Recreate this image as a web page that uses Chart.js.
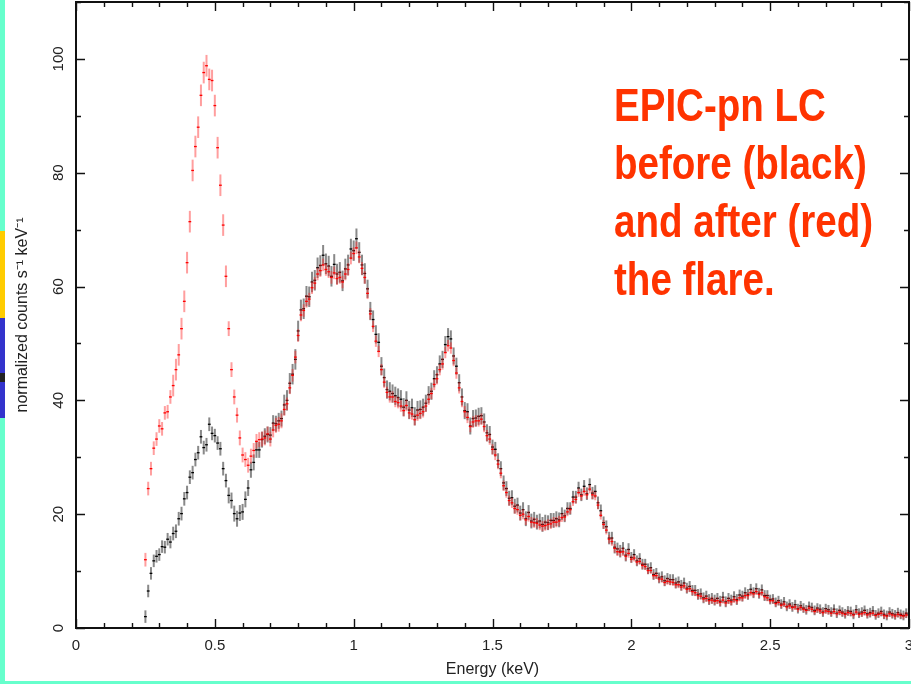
<!DOCTYPE html>
<html>
<head>
<meta charset="utf-8">
<title>EPIC-pn spectrum before and after the flare</title>
<script src="https://cdn.jsdelivr.net/npm/chart.js@4.4.1/dist/chart.umd.min.js"></script>
<style>
  html, body { margin: 0; padding: 0; background: #fff; overflow: hidden; }
  #wrap { width: 911px; height: 684px; position: relative; }
  canvas { display: block; }
</style>
</head>
<body>
<div id="wrap"><canvas id="spec" width="911" height="684"></canvas></div>
<script>
// Spectral bins: centres start at 0.25 keV, 0.01 keV wide
const binStart = 0.25;
const binWidth = 0.01;

// Normalized counts s^-1 keV^-1 before the flare (black)
const before = [
  2.0, 6.5, 9.6, 11.8, 12.6, 12.9, 14.3, 14.2, 15.6, 15.1,
  16.6, 17.0, 19.2, 20.1, 22.7, 23.8, 26.5, 27.3, 29.6, 30.8,
  33.6, 31.7, 32.2, 35.8, 34.2, 33.8, 32.5, 31.5, 28.0, 25.9,
  23.3, 22.4, 20.1, 19.2, 20.2, 20.4, 22.6, 24.6, 27.8, 29.1,
  31.3, 31.3, 33.1, 33.7, 34.0, 33.9, 36.0, 35.9, 36.4, 36.8,
  39.2, 40.0, 43.0, 44.6, 47.2, 52.2, 55.9, 56.1, 58.3, 58.2,
  60.8, 61.1, 63.3, 63.7, 65.5, 64.0, 63.6, 61.8, 63.9, 62.2,
  62.5, 61.0, 63.1, 63.8, 66.6, 66.3, 68.4, 66.0, 63.8, 62.3,
  59.6, 55.7, 54.2, 51.6, 50.2, 46.0, 44.0, 41.9, 41.6, 41.2,
  40.8, 40.5, 40.2, 38.8, 40.0, 38.3, 38.7, 37.2, 38.3, 38.4,
  38.8, 39.5, 41.0, 41.6, 43.8, 44.5, 46.4, 47.2, 49.8, 51.2,
  50.8, 47.8, 46.0, 43.1, 40.6, 38.2, 38.0, 35.5, 36.8, 36.9,
  37.2, 37.3, 36.2, 34.3, 34.0, 31.8, 31.4, 29.4, 28.0, 25.5,
  24.5, 22.8, 22.9, 21.4, 21.6, 20.2, 20.8, 19.2, 20.3, 18.8,
  19.1, 18.6, 18.8, 18.2, 18.6, 18.5, 18.9, 18.9, 19.2, 19.0,
  20.1, 19.7, 21.0, 21.0, 23.0, 23.0, 24.6, 23.4, 24.9, 23.6,
  25.2, 23.7, 24.0, 22.0, 20.6, 18.5, 17.8, 15.8, 15.8, 14.2,
  13.9, 13.5, 14.0, 12.8, 13.8, 12.4, 12.9, 11.8, 12.2, 11.2,
  11.2, 10.4, 10.6, 9.4, 9.6, 8.8, 9.0, 8.3, 8.7, 8.5,
  8.5, 7.9, 8.1, 7.5, 7.9, 7.0, 7.3, 6.6, 6.6, 5.9,
  6.0, 5.3, 5.6, 5.0, 5.2, 4.9, 5.2, 4.7, 5.4, 4.6,
  5.2, 4.9, 5.5, 5.0, 5.8, 5.6, 6.2, 5.9, 6.8, 6.2,
  6.9, 6.1, 6.7, 5.7, 5.7, 5.0, 5.1, 4.5, 4.8, 4.2,
  4.6, 3.8, 4.2, 3.7, 4.1, 3.4, 3.9, 3.5, 3.2, 3.8,
  3.6, 3.1, 3.5, 3.3, 2.8, 3.4, 3.2, 2.8, 3.3, 2.6,
  3.1, 2.8, 2.5, 3.0, 2.9, 2.4, 3.2, 2.6, 2.8, 3.1,
  2.5, 2.7, 3.0, 2.3, 2.6, 2.9, 2.4, 2.2, 2.8, 2.5,
  2.3, 2.7, 2.4, 2.2, 2.6, 2.4
];

// Normalized counts s^-1 keV^-1 after the flare (red)
const after = [
  12.0, 24.5, 28.0, 31.6, 33.2, 35.5, 35.0, 37.8, 38.0, 40.6,
  42.6, 45.4, 48.0, 52.6, 57.4, 64.2, 71.4, 80.4, 84.6, 88.0,
  93.6, 97.6, 98.8, 96.4, 96.2, 91.8, 84.4, 77.8, 70.8, 61.8,
  52.6, 45.4, 40.6, 37.4, 33.4, 30.4, 29.6, 28.6, 30.2, 31.2,
  32.8, 33.1, 33.2, 33.4, 34.1, 33.2, 34.8, 35.6, 35.8, 36.4,
  38.4, 39.4, 42.2, 44.4, 47.6, 51.4, 55.0, 55.8, 57.4, 57.8,
  59.8, 60.6, 62.2, 62.8, 63.8, 63.0, 62.6, 61.6, 62.4, 61.4,
  61.6, 60.8, 62.2, 63.0, 65.0, 65.8, 66.8, 65.2, 63.2, 61.6,
  58.8, 55.2, 53.0, 50.4, 48.6, 45.4, 43.2, 41.4, 40.6, 40.6,
  39.8, 39.6, 39.0, 38.2, 39.1, 37.8, 37.6, 36.6, 37.4, 37.7,
  38.0, 39.0, 40.2, 41.2, 42.8, 43.8, 45.4, 46.4, 48.4, 49.6,
  49.2, 47.0, 44.8, 42.2, 39.8, 38.0, 37.0, 35.4, 36.2, 36.4,
  36.4, 36.7, 35.4, 33.8, 33.2, 31.4, 30.4, 28.8, 27.2, 25.0,
  23.8, 22.4, 22.0, 21.0, 20.8, 19.8, 20.0, 19.0, 19.6, 18.6,
  18.5, 18.4, 18.1, 17.9, 18.0, 18.2, 18.3, 18.6, 18.6, 18.8,
  19.4, 19.5, 20.4, 20.8, 22.2, 22.6, 23.8, 23.2, 24.0, 23.4,
  24.4, 23.4, 23.2, 21.6, 19.8, 18.2, 17.2, 15.6, 15.2, 14.0,
  13.4, 13.3, 13.4, 12.6, 13.1, 12.1, 12.3, 11.6, 11.7, 11.0,
  10.8, 10.1, 10.1, 9.2, 9.2, 8.6, 8.6, 8.0, 8.2, 8.1,
  8.0, 7.6, 7.6, 7.2, 7.4, 6.8, 6.9, 6.4, 6.2, 5.7,
  5.6, 5.1, 5.2, 4.8, 4.9, 4.7, 4.8, 4.5, 4.9, 4.4,
  4.8, 4.6, 5.0, 4.8, 5.3, 5.3, 5.7, 5.7, 6.2, 6.0,
  6.4, 5.9, 6.2, 5.5, 5.3, 4.8, 4.8, 4.3, 4.5, 4.0,
  4.2, 3.7, 3.9, 3.6, 3.7, 3.3, 3.6, 3.3, 3.1, 3.5,
  3.3, 2.9, 3.2, 3.0, 2.7, 3.0, 2.9, 2.6, 2.9, 2.5,
  2.8, 2.6, 2.4, 2.7, 2.6, 2.3, 2.8, 2.4, 2.5, 2.7,
  2.3, 2.5, 2.6, 2.2, 2.4, 2.6, 2.2, 2.1, 2.5, 2.3,
  2.1, 2.4, 2.2, 2.1, 2.3, 2.2
];

// 1-sigma errors per energy band (upper band edges in keV)
const errEdges  = [0.35, 0.55, 0.75, 1.05, 1.25, 1.5, 1.75, 2.0, 2.5, 3.01];
const errBefore = [1.1, 1.2, 1.4, 1.8, 1.6, 1.5, 1.3, 1.1, 0.95, 0.85];
const errAfter  = [1.2, 1.9, 1.3, 1.1, 1.0, 1.0, 0.9, 0.75, 0.6, 0.5];

// Axis ticks
const xTicks = [0, 0.5, 1, 1.5, 2, 2.5, 3];
const yTicks = [0, 20, 40, 60, 80, 100];
const xMinorStep = 0.1;
const yMinorStep = 10;

const noteLines = ['EPIC-pn LC', 'before (black)', 'and after (red)', 'the flare.'];

const energies = before.map((_, i) => +(binStart + i * binWidth).toFixed(3));

function bandErr(errs, e) {
  const k = errEdges.findIndex(edge => e < edge);
  return errs[k < 0 ? errs.length - 1 : k];
}

const tickFont = { family: '"Liberation Sans", Arial, sans-serif', size: 15 };
const titleFont = { family: '"Liberation Sans", Arial, sans-serif', size: 16 };

// Page background with the coloured frame strips
const framePaper = {
  id: 'framePaper',
  beforeDraw(chart) {
    const ctx = chart.ctx;
    const W = chart.width, H = chart.height;
    ctx.save();
    ctx.fillStyle = '#ffffff';
    ctx.fillRect(0, 0, W, H);
    ctx.fillStyle = '#66ffcc';
    ctx.fillRect(0, 0, 5, H);
    ctx.fillRect(0, H - 3, W, 3);
    ctx.fillStyle = '#ffcc00';
    ctx.fillRect(0, 231, 5, 87);
    ctx.fillStyle = '#3333cc';
    ctx.fillRect(0, 318, 5, 100);
    ctx.fillStyle = '#222222';
    ctx.fillRect(0, 373, 5, 9);
    ctx.restore();
  }
};

// Error-bar crosses: vertical = 1 sigma, horizontal = bin width
const errorCrosses = {
  id: 'errorCrosses',
  afterDatasetsDraw(chart) {
    const { ctx, chartArea, scales: { x, y } } = chart;
    ctx.save();
    ctx.beginPath();
    ctx.rect(chartArea.left, chartArea.top, chartArea.width, chartArea.height);
    ctx.clip();
    chart.data.datasets.forEach((ds, di) => {
      const meta = chart.getDatasetMeta(di);
      meta.data.forEach((pt, i) => {
        const d = ds.data[i];
        const yHi = y.getPixelForValue(d.y + d.e);
        const yLo = y.getPixelForValue(d.y - d.e);
        const xL = x.getPixelForValue(d.x - binWidth / 2);
        const xR = x.getPixelForValue(d.x + binWidth / 2);
        ctx.strokeStyle = ds.errColor;
        ctx.lineWidth = 2;
        ctx.beginPath();
        ctx.moveTo(pt.x, yHi);
        ctx.lineTo(pt.x, yLo);
        ctx.stroke();
        ctx.strokeStyle = ds.borderColor;
        ctx.lineWidth = 1.3;
        ctx.beginPath();
        ctx.moveTo(xL, pt.y);
        ctx.lineTo(xR, pt.y);
        ctx.stroke();
      });
    });
    ctx.restore();
  }
};

// Box frame with inward ticks on all four sides, plus the caption
const boxAndNote = {
  id: 'boxAndNote',
  afterDraw(chart) {
    const { ctx, chartArea: a, scales: { x, y } } = chart;
    ctx.save();
    ctx.strokeStyle = '#111';
    ctx.lineWidth = 2;
    ctx.strokeRect(a.left, a.top, a.right - a.left, a.bottom - a.top);
    ctx.lineWidth = 1.4;
    ctx.beginPath();
    for (let v = 0; v <= x.max + 1e-9; v += xMinorStep) {
      const px = Math.round(x.getPixelForValue(v)) + 0.5;
      const major = xTicks.some(t => Math.abs(t - v) < 1e-6);
      const len = major ? 9 : 5;
      ctx.moveTo(px, a.bottom); ctx.lineTo(px, a.bottom - len);
      ctx.moveTo(px, a.top); ctx.lineTo(px, a.top + len);
    }
    for (let v = 0; v <= y.max + 1e-9; v += yMinorStep) {
      const py = Math.round(y.getPixelForValue(v)) + 0.5;
      const major = yTicks.some(t => Math.abs(t - v) < 1e-6);
      const len = major ? 9 : 5;
      ctx.moveTo(a.left, py); ctx.lineTo(a.left + len, py);
      ctx.moveTo(a.right, py); ctx.lineTo(a.right - len, py);
    }
    ctx.stroke();

    ctx.fillStyle = '#ff3300';
    ctx.font = 'bold 47px "Liberation Sans", Arial, sans-serif';
    ctx.textBaseline = 'alphabetic';
    ctx.textAlign = 'left';
    const squeeze = 0.82;
    ctx.scale(squeeze, 1);
    noteLines.forEach((t, i) => ctx.fillText(t, 614 / squeeze, 121 + i * 58));
    ctx.restore();
  }
};

// Axes keep a fixed size and no extra edge padding for overhanging labels
function fixBox(size) {
  return s => {
    if (s.isHorizontal()) s.height = size; else s.width = size;
    s.paddingLeft = 0; s.paddingRight = 0; s.paddingTop = 0; s.paddingBottom = 0;
  };
}

new Chart(document.getElementById('spec'), {
  type: 'scatter',
  data: {
    datasets: [
      {
        label: 'before',
        data: energies.map((e, i) => ({ x: e, y: before[i], e: bandErr(errBefore, e) })),
        borderColor: '#000000',
        errColor: 'rgba(20,20,20,0.5)',
        pointRadius: 0,
        showLine: false
      },
      {
        label: 'after',
        data: energies.map((e, i) => ({ x: e, y: after[i], e: bandErr(errAfter, e) })),
        borderColor: '#ff0000',
        errColor: 'rgba(255,40,40,0.45)',
        pointRadius: 0,
        showLine: false
      }
    ]
  },
  options: {
    responsive: false,
    animation: false,
    devicePixelRatio: 1,
    layout: { padding: { left: 5, right: 2, top: 2, bottom: 4 } },
    plugins: { legend: { display: false }, tooltip: { enabled: false } },
    events: [],
    scales: {
      x: {
        type: 'linear',
        min: 0,
        max: 3,
        grid: { display: false, drawTicks: false },
        border: { display: false },
        afterBuildTicks: s => { s.ticks = xTicks.map(v => ({ value: v })); },
        afterFit: fixBox(52),
        ticks: {
          autoSkip: false, maxRotation: 0, minRotation: 0, padding: 9,
          font: tickFont, color: '#222',
          callback: v => String(v)
        },
        title: {
          display: true, text: 'Energy (keV)', color: '#222', font: titleFont,
          padding: { top: 0, bottom: 1 }
        }
      },
      y: {
        type: 'linear',
        min: 0,
        max: 110,
        grid: { display: false, drawTicks: false },
        border: { display: false },
        afterBuildTicks: s => { s.ticks = yTicks.map(v => ({ value: v })); },
        afterFit: fixBox(71),
        ticks: {
          autoSkip: false, minRotation: 90, maxRotation: 90, crossAlign: 'center', padding: 5,
          font: tickFont, color: '#222',
          callback: v => String(v)
        },
        title: {
          display: true, text: 'normalized counts s\u207B\u00B9 keV\u207B\u00B9', color: '#222', font: titleFont,
          padding: { top: 8, bottom: 0 }
        }
      }
    }
  },
  plugins: [framePaper, errorCrosses, boxAndNote]
});
</script>
</body>
</html>
